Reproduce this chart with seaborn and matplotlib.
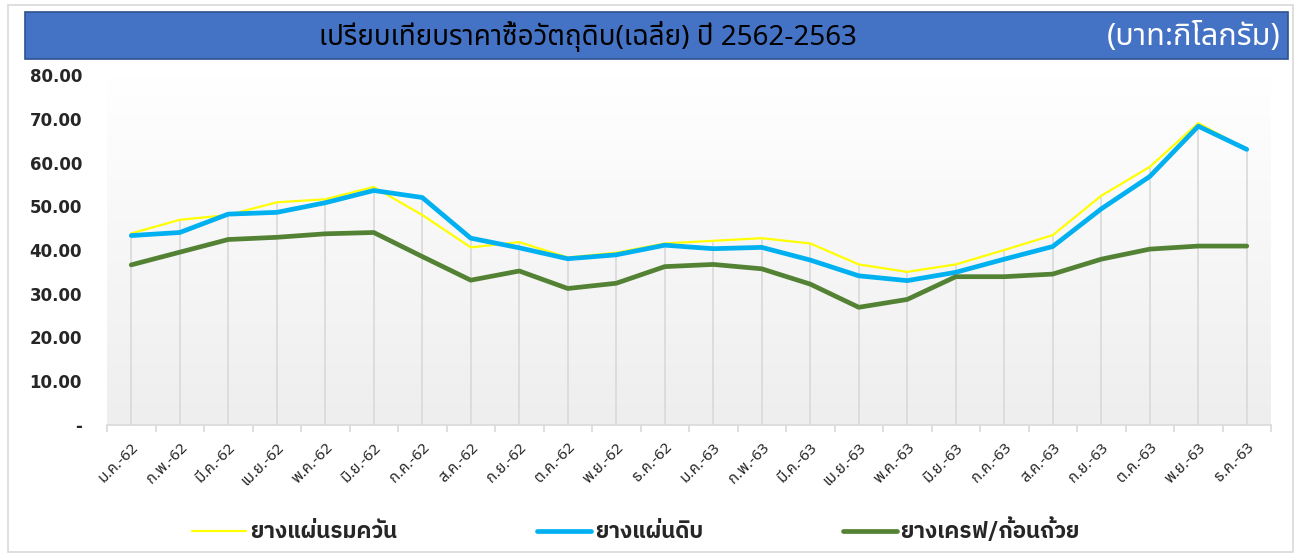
import numpy as np
import pandas as pd
import matplotlib
matplotlib.use("Agg")
import matplotlib.pyplot as plt
from matplotlib.lines import Line2D
from matplotlib.patches import Rectangle
import seaborn as sns

# ข้อมูลราคา (บาท/กก.)
months = ["ม.ค.-62", "ก.พ.-62", "มี.ค.-62", "เม.ย.-62", "พ.ค.-62", "มิ.ย.-62",
          "ก.ค.-62", "ส.ค.-62", "ก.ย.-62", "ต.ค.-62", "พ.ย.-62", "ธ.ค.-62",
          "ม.ค.-63", "ก.พ.-63", "มี.ค.-63", "เม.ย.-63", "พ.ค.-63", "มิ.ย.-63",
          "ก.ค.-63", "ส.ค.-63", "ก.ย.-63", "ต.ค.-63", "พ.ย.-63", "ธ.ค.-63"]
smoked = [43.8, 46.9, 48.0, 50.9, 51.6, 54.4, 48.0, 40.6, 41.8, 38.3, 39.4, 41.5,
          42.1, 42.7, 41.5, 36.7, 35.0, 36.7, 40.0, 43.4, 52.4, 59.0, 69.0, 63.0]
raw = [43.3, 44.0, 48.2, 48.6, 50.8, 53.6, 52.0, 42.7, 40.5, 38.0, 38.9, 41.1,
       40.3, 40.6, 37.7, 34.1, 33.0, 34.9, 37.9, 40.8, 49.4, 56.8, 68.3, 63.0]
cup = [36.6, 39.5, 42.4, 42.9, 43.7, 44.0, 38.5, 33.1, 35.2, 31.2, 32.4, 36.2,
       36.7, 35.7, 32.2, 26.9, 28.7, 33.9, 33.9, 34.5, 37.9, 40.2, 40.9, 40.9]
series_names = ["ยางแผ่นรมควัน", "ยางแผ่นดิบ", "ยางเครฟ/ก้อนถ้วย"]
colors = ["#FFFF00", "#00B0F0", "#548235"]
widths = [1.6, 3.4, 3.4]

sns.set_theme(style="white")
thai = ["Noto Sans Thai", "DejaVu Sans"]
thai_bold = ["IBM Plex Sans Thai", "DejaVu Sans"]
plt.rcParams["font.family"] = thai

W, H = 1295, 553
fig = plt.figure(figsize=(W / 100, H / 100), dpi=100)

def fx(px):
    return px / W

def fy(py):
    return 1 - py / H

# กรอบนอก
fig.patches.append(Rectangle((fx(8), fy(552)), fx(1293) - fx(8), fy(5) - fy(552),
                             transform=fig.transFigure, fill=False,
                             edgecolor="#d9d9d9", lw=1.2))
# แถบหัวเรื่อง
fig.patches.append(Rectangle((fx(25), fy(59)), fx(1288) - fx(25), fy(12) - fy(59),
                             transform=fig.transFigure, facecolor="#4472C4",
                             edgecolor="#2F528F", lw=1.2))
fig.text(fx(588), fy(37), "เปรียบเทียบราคาซื้อวัตถุดิบ(เฉลี่ย) ปี 2562-2563",
         ha="center", va="center", fontsize=20, color="black")
fig.text(fx(1281), fy(37), "(บาท:กิโลกรัม)", ha="right", va="center",
         fontsize=22, color="white")

ax = fig.add_axes([fx(107), fy(425), fx(1271) - fx(107), fy(75) - fy(425)])

x = np.arange(len(months))
df = pd.DataFrame({"x": np.tile(x, 3),
                   "price": smoked + raw + cup,
                   "type": np.repeat(series_names, len(months))})

# พื้นหลังไล่สี
grad = np.linspace(0, 1, 256).reshape(-1, 1)
cmap = matplotlib.colors.LinearSegmentedColormap.from_list(
    "bg", [(0, "#eeeeee"), (0.7, "#fafafa"), (1, "#ffffff")])
ax.imshow(grad, extent=[-0.5, 23.5, 0, 80], origin="lower", aspect="auto",
          cmap=cmap, zorder=0)

# drop lines
top = np.max(np.vstack([smoked, raw, cup]), axis=0)
ax.vlines(x, 0, top, color="#d9d9d9", lw=1.2, zorder=1)

for name, c, lw in zip(series_names, colors, widths):
    sns.lineplot(data=df[df["type"] == name], x="x", y="price", color=c,
                 linewidth=lw, ax=ax, zorder=3, legend=False)

ax.set_xlim(-0.5, 23.5)
ax.set_ylim(0, 80)
ax.set_xlabel("")
ax.set_ylabel("")
ax.grid(False)
for s in ["left", "top", "right"]:
    ax.spines[s].set_visible(False)
ax.spines["bottom"].set_color("#d9d9d9")
ax.spines["bottom"].set_linewidth(1.2)

ax.set_yticks(np.arange(0, 81, 10))
ax.set_yticklabels(["-"] + ["%.2f" % v for v in np.arange(10, 81, 10)],
                   family="DejaVu Sans", fontweight="bold", fontsize=12)
ax.tick_params(axis="y", length=0, pad=18)

ax.set_xticks(x)
ax.set_xticklabels(months, rotation=45, ha="right", rotation_mode="anchor",
                   fontsize=11)
ax.set_xticks(np.arange(-0.5, 24, 1), minor=True)
ax.tick_params(axis="x", which="major", length=0, pad=11)
ax.tick_params(axis="x", which="minor", length=5, color="#d9d9d9", width=1.2,
               direction="out", bottom=True)

handles = [Line2D([], [], color=c, lw=lw) for c, lw in zip(colors, widths)]
leg = fig.legend(handles, series_names, loc="center", ncol=3,
                 bbox_to_anchor=(fx(636), fy(530)), frameon=False,
                 prop={"family": thai_bold, "weight": "bold", "size": 16},
                 handlelength=2.45, handletextpad=0.15, columnspacing=6.3)

fig.savefig("out.png", dpi=100)
